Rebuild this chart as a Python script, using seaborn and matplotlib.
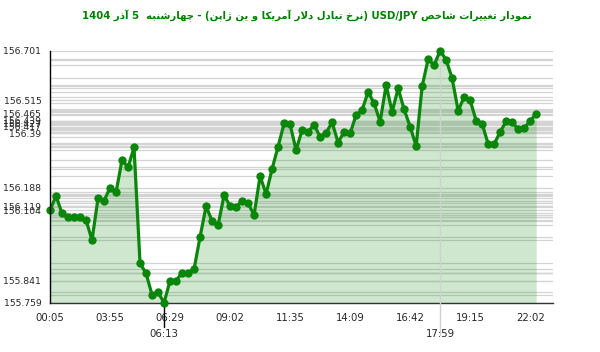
import numpy as np
import pandas as pd
import matplotlib
matplotlib.use("Agg")
import matplotlib.pyplot as plt
import seaborn as sns

# ---------------- data ----------------
title_text = "نمودار تغییرات شاخص USD/JPY (نرخ تبادل دلار آمریکا و ین ژاپن) - چهارشنبه  5 آذر 1404"

values = [
    156.104, 156.158, 156.093, 156.078, 156.080, 156.078, 156.068, 155.993, 156.149, 156.140,
    156.188, 156.171, 156.292, 156.265, 156.339, 155.906, 155.869, 155.788, 155.798, 155.759,
    155.841, 155.841, 155.871, 155.871, 155.884, 156.005, 156.119, 156.065, 156.048, 156.161,
    156.120, 156.118, 156.139, 156.130, 156.087, 156.232, 156.165, 156.259, 156.342, 156.429,
    156.425, 156.329, 156.404, 156.398, 156.423, 156.379, 156.394, 156.433, 156.357, 156.398,
    156.392, 156.460, 156.479, 156.547, 156.504, 156.435, 156.572, 156.472, 156.560, 156.481,
    156.417, 156.344, 156.568, 156.669, 156.647, 156.701, 156.666, 156.597, 156.476, 156.528,
    156.515, 156.439, 156.427, 156.352, 156.352, 156.397, 156.437, 156.434, 156.407, 156.410,
    156.439, 156.465,
]

x_tick_index = [0, 10, 20, 30, 40, 50, 60, 70, 80]
x_tick_labels = ["00:05", "03:55", "06:29", "09:02", "11:35", "14:09", "16:42", "19:15", "22:02"]
min_time_label = "06:13"
max_time_label = "17:59"

y_tick_values = [156.701, 156.515, 156.465, 156.439, 156.427, 156.417, 156.39,
                 156.188, 156.119, 156.104, 155.841, 155.759]
y_tick_labels = ["156.701", "156.515", "156.465", "156.439", "156.427", "156.417", "156.39",
                 "156.188", "156.119", "156.104", "155.841", "155.759"]

# ------------- simple Persian shaping / bidi for matplotlib -------------
RIGHT_JOIN = set("اآدذرژو")
FORMS = {
    "ا": ("\uFE8D", "\uFE8E", None, None),
    "آ": ("\uFE81", "\uFE82", None, None),
    "ب": ("\uFE8F", "\uFE90", "\uFE91", "\uFE92"),
    "پ": ("\uFB56", "\uFB57", "\uFB58", "\uFB59"),
    "ت": ("\uFE95", "\uFE96", "\uFE97", "\uFE98"),
    "چ": ("\uFB7A", "\uFB7B", "\uFB7C", "\uFB7D"),
    "خ": ("\uFEA5", "\uFEA6", "\uFEA7", "\uFEA8"),
    "د": ("\uFEA9", "\uFEAA", None, None),
    "ذ": ("\uFEAB", "\uFEAC", None, None),
    "ر": ("\uFEAD", "\uFEAE", None, None),
    "ژ": ("\uFB8A", "\uFB8B", None, None),
    "ش": ("\uFEB5", "\uFEB6", "\uFEB7", "\uFEB8"),
    "ص": ("\uFEB9", "\uFEBA", "\uFEBB", "\uFEBC"),
    "غ": ("\uFECD", "\uFECE", "\uFECF", "\uFED0"),
    "ک": ("\uFB8E", "\uFB8F", "\uFB90", "\uFB91"),
    "ل": ("\uFEDD", "\uFEDE", "\uFEDF", "\uFEE0"),
    "م": ("\uFEE1", "\uFEE2", "\uFEE3", "\uFEE4"),
    "ن": ("\uFEE5", "\uFEE6", "\uFEE7", "\uFEE8"),
    "ه": ("\uFEE9", "\uFEEA", "\uFEEB", "\uFEEC"),
    "و": ("\uFEED", "\uFEEE", None, None),
    "ی": ("\uFBFC", "\uFBFD", "\uFBFE", "\uFBFF"),
}
LAM_ALEF = {"ا": ("\uFEFB", "\uFEFC"), "آ": ("\uFEF5", "\uFEF6")}
MIRROR = {"(": ")", ")": "("}


def shape(word):
    out, i, n, prev_joins = [], 0, len(word), False
    while i < n:
        c = word[i]
        if c not in FORMS:
            out.append(c)
            prev_joins = False
            i += 1
            continue
        if c == "ل" and i + 1 < n and word[i + 1] in LAM_ALEF:
            iso, fin = LAM_ALEF[word[i + 1]]
            out.append(fin if prev_joins else iso)
            prev_joins = False
            i += 2
            continue
        nxt = word[i + 1] if i + 1 < n else None
        can_next = (c not in RIGHT_JOIN) and (nxt in FORMS)
        f = FORMS[c]
        if prev_joins and can_next:
            g = f[3]
        elif prev_joins:
            g = f[1]
        elif can_next:
            g = f[2]
        else:
            g = f[0]
        out.append(g)
        prev_joins = can_next
        i += 1
    return "".join(out)


def visual(text):
    res = []
    for t in reversed(text.split(" ")):
        if any(ch in FORMS for ch in t):
            s = shape(t)[::-1]
            res.append("".join(MIRROR.get(ch, ch) for ch in s))
        else:
            res.append(t)
    return " ".join(res)


# ---------------- plot ----------------
sns.set_style("white")
plt.rcParams["font.family"] = ["DejaVu Sans"]

df = pd.DataFrame({"idx": np.arange(len(values)), "value": values})
imin = int(np.argmin(values))
imax = int(np.argmax(values))
ymin, ymax = min(values), max(values)

fig = plt.figure(figsize=(6.0, 3.52), dpi=100)
ax = fig.add_axes([50 / 600, (352 - 302.7) / 352, 503 / 600, 252.1 / 352])

green = "#0a870a"

for v in values:
    ax.axhline(v, color="#d4d4d4", lw=0.9, zorder=1)

ax.fill_between(df["idx"], df["value"], ymin, color="#008000", alpha=0.19, lw=0, zorder=2)
sns.lineplot(data=df, x="idx", y="value", ax=ax, color=green, lw=2.3,
             marker="o", markersize=6, markeredgewidth=0, zorder=4, clip_on=False)

ax.set_xlim(0, 83.8)
ax.set_ylim(ymin, ymax)

# vertical max line and min tick
ax.axvline(imax, ymin=-0.128, ymax=1, color="#d0d0d0", lw=1, clip_on=False, zorder=3)
ax.axvline(imin, ymin=-0.096, ymax=0, color="black", lw=1, clip_on=False, zorder=3)
tr = ax.get_xaxis_transform()
ax.text(imin, -0.125, min_time_label, transform=tr, ha="center", va="center", fontsize=7.3)
ax.text(imax, -0.125, max_time_label, transform=tr, ha="center", va="center", fontsize=7.3)

ax.set_xticks(x_tick_index)
ax.set_xticklabels(x_tick_labels, fontsize=7.3)
ax.set_yticks(y_tick_values)
ax.set_yticklabels(y_tick_labels, fontsize=6.7)
ax.tick_params(axis="both", direction="inout", length=7.5, width=1, color="black")
ax.tick_params(axis="x", pad=4)
ax.tick_params(axis="y", pad=2.5)
ax.set_xlabel("")
ax.set_ylabel("")

for s in ["top", "right"]:
    ax.spines[s].set_visible(False)
ax.spines["left"].set_color("black")
ax.spines["bottom"].set_color("#333333")
ax.spines["left"].set_linewidth(1)
ax.spines["bottom"].set_linewidth(1)
ax.spines["left"].set_zorder(5)

fig.text(0.512, 0.955, visual(title_text), ha="center", va="center",
         fontsize=7.3, fontweight="bold", color="#008000")

fig.savefig("out.png", dpi=100)
